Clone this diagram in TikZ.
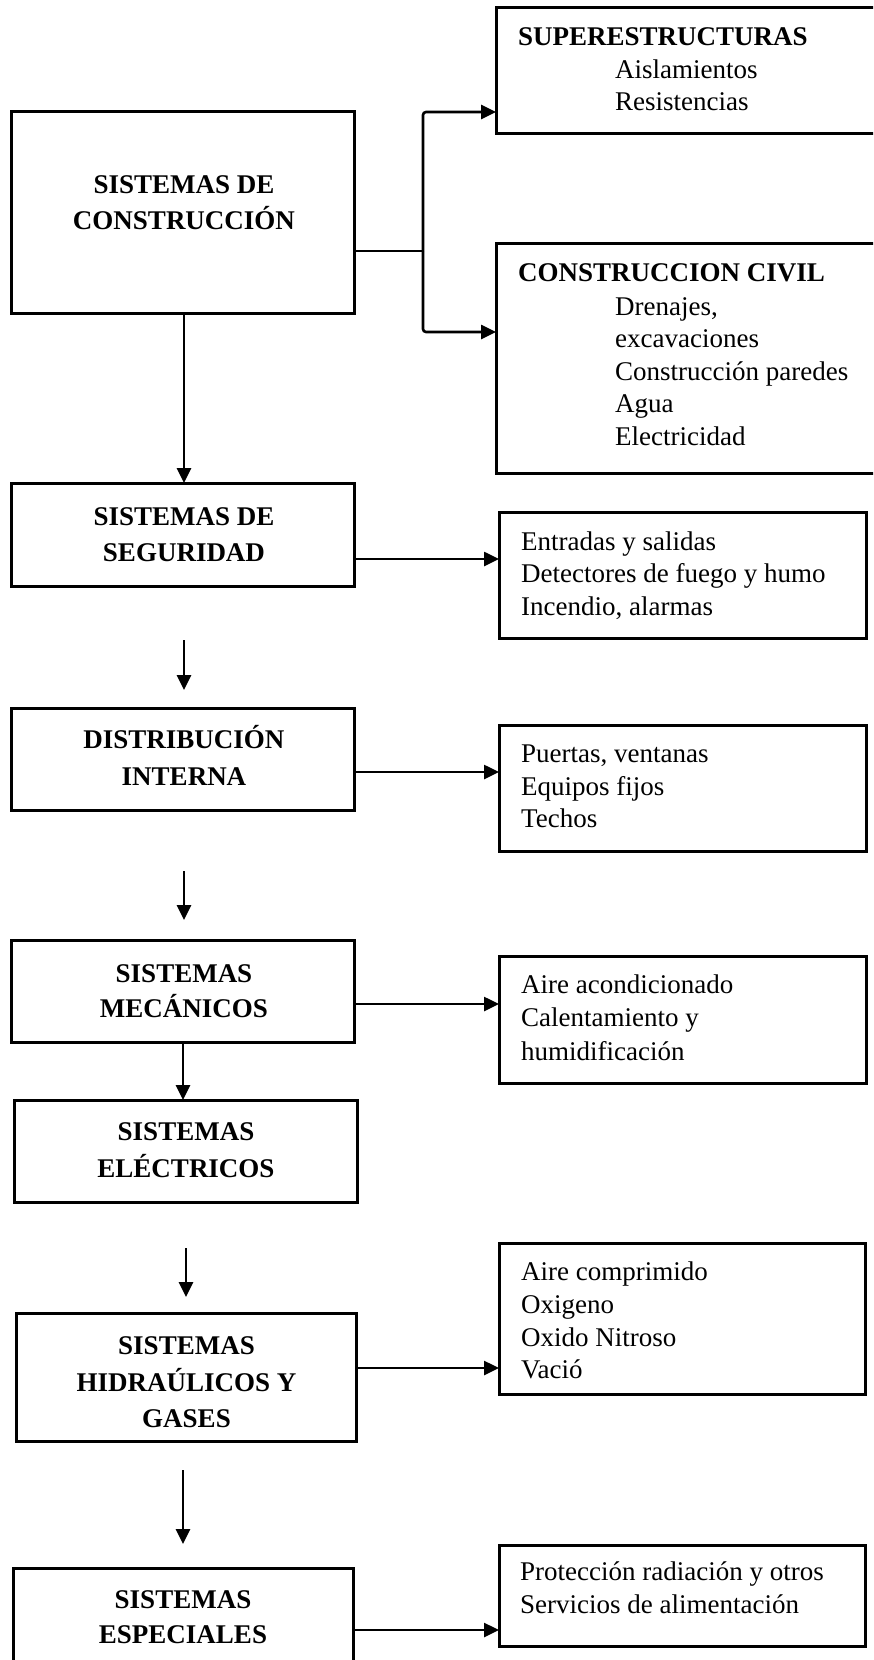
\documentclass[tikz,border=0pt]{standalone}
\usepackage{fontspec}
\setmainfont{Liberation Serif}
\usetikzlibrary{arrows.meta}
\tikzset{
  box/.style={draw, line width=3pt, inner sep=0pt, outer sep=0pt},
  line/.style={line width=2.6pt},
  conn/.style={line width=2.6pt, -{Triangle[length=15pt,width=14pt]}},
  hd/.style={font=\bfseries\fontsize{27}{32}\selectfont, inner sep=0pt, anchor=base},
  hdl/.style={hd, anchor=base west},
  itm/.style={font=\fontsize{27}{32}\selectfont, inner sep=0pt, anchor=base west},
}
\begin{document}
\begin{tikzpicture}[x=1pt,y=-1pt]
\useasboundingbox (0,0) rectangle (873,1660);
\clip (0,0) rectangle (873,1660);
% left column boxes
\node[box, minimum width=343pt, minimum height=202pt] (cons) at (182.5,212) {};
\node[box, minimum width=343pt, minimum height=103pt] (seg) at (182.5,534.5) {};
\node[box, minimum width=343pt, minimum height=102pt] (dist) at (182.5,759) {};
\node[box, minimum width=343pt, minimum height=102pt] (mec) at (182.5,991) {};
\node[box, minimum width=343pt, minimum height=102pt] (elec) at (185.5,1151) {};
\node[box, minimum width=340pt, minimum height=128pt] (hid) at (186,1377) {};
\node[box, minimum width=340pt, minimum height=100pt] (esp) at (183,1618) {};
% right column boxes
\node[box, minimum width=384pt, minimum height=126pt] (sup) at (688,70) {};
\node[box, minimum width=384pt, minimum height=230pt] (civ) at (688,358) {};
\node[box, minimum width=367pt, minimum height=126pt] (b1) at (682.5,575) {};
\node[box, minimum width=367pt, minimum height=126pt] (b2) at (682.5,788) {};
\node[box, minimum width=367pt, minimum height=127pt] (b3) at (682.5,1019.5) {};
\node[box, minimum width=366pt, minimum height=151pt] (b4) at (682,1318.5) {};
\node[box, minimum width=366pt, minimum height=101pt] (b5) at (682,1595.5) {};
% left texts
\node[hd] (t1) at (184,193) {SISTEMAS DE};
\node[hd] (t2) at (184,229) {CONSTRUCCIÓN};
\node[hd] (t3) at (184,525) {SISTEMAS DE};
\node[hd] (t4) at (184,561.5) {SEGURIDAD};
\node[hd] (t5) at (184,748) {DISTRIBUCIÓN};
\node[hd] (t6) at (184,785) {INTERNA};
\node[hd] (t7) at (184,982) {SISTEMAS};
\node[hd] (t8) at (184,1017) {MECÁNICOS};
\node[hd] (t9) at (186,1140) {SISTEMAS};
\node[hd] (t10) at (186,1177) {ELÉCTRICOS};
\node[hd] (t11) at (186.5,1354) {SISTEMAS};
\node[hd] (t12) at (186.5,1391) {HIDRAÚLICOS Y};
\node[hd] (t13) at (186.5,1427) {GASES};
\node[hd] (t14) at (183,1608) {SISTEMAS};
\node[hd] (t15) at (183,1643) {ESPECIALES};
% right texts
\node[hdl] (s0) at (518,45) {SUPERESTRUCTURAS};
\node[itm] (s1) at (615,78) {Aislamientos};
\node[itm] (s2) at (615,110) {Resistencias};
\node[hdl] (c0) at (518,281.5) {CONSTRUCCION CIVIL};
\node[itm] (c1) at (615,315) {Drenajes,};
\node[itm] (c2) at (615,347) {excavaciones};
\node[itm] (c3) at (615,380) {Construcción paredes};
\node[itm] (c4) at (615,412) {Agua};
\node[itm] (c5) at (615,445) {Electricidad};
\node[itm] (e1) at (521,550) {Entradas y salidas};
\node[itm] (e2) at (521,582.5) {Detectores de fuego y humo};
\node[itm] (e3) at (521,615) {Incendio, alarmas};
\node[itm] (p1) at (521,762.5) {Puertas, ventanas};
\node[itm] (p2) at (521,795) {Equipos fijos};
\node[itm] (p3) at (521,827) {Techos};
\node[itm] (m1) at (521,993) {Aire acondicionado};
\node[itm] (m2) at (521,1026.5) {Calentamiento y};
\node[itm] (m3) at (521,1060) {humidificación};
\node[itm] (h1) at (521,1280.5) {Aire comprimido};
\node[itm] (h2) at (521,1313) {Oxigeno};
\node[itm] (h3) at (521,1346) {Oxido Nitroso};
\node[itm] (h4) at (521,1378.5) {Vació};
\node[itm] (x1) at (520,1580.5) {Protección radiación y otros};
\node[itm] (x2) at (520,1613) {Servicios de alimentación};
% connectors: construction branch
\coordinate (jn) at (423,251);
\draw[line] (cons.east |- jn) -- (jn);
\draw[conn, rounded corners=3pt] (jn) -- (jn |- 0,112) -- (sup.west |- 0,112);
\draw[conn, rounded corners=3pt] (jn) -- (jn |- 0,332) -- (civ.west |- 0,332);
% vertical flow
\draw[conn] (cons.south -| 184,0) -- (seg.north -| 184,0);
\coordinate (f1a) at (184,640); \coordinate (f1b) at (184,690);
\draw[conn] (f1a) -- (f1b);
\coordinate (f2a) at (184,871); \coordinate (f2b) at (184,920);
\draw[conn] (f2a) -- (f2b);
\draw[conn] (mec.south -| 183,0) -- (elec.north -| 183,0);
\coordinate (f3a) at (186,1248); \coordinate (f3b) at (186,1297);
\draw[conn] (f3a) -- (f3b);
\coordinate (f4a) at (183,1470); \coordinate (f4b) at (183,1544);
\draw[conn] (f4a) -- (f4b);
% horizontal arrows
\draw[conn] (seg.east |- 0,559) -- (b1.west |- 0,559);
\draw[conn] (dist.east |- 0,772) -- (b2.west |- 0,772);
\draw[conn] (mec.east |- 0,1004) -- (b3.west |- 0,1004);
\draw[conn] (hid.east |- 0,1368) -- (b4.west |- 0,1368);
\draw[conn] (esp.east |- 0,1630) -- (b5.west |- 0,1630);
\end{tikzpicture}
\end{document}
